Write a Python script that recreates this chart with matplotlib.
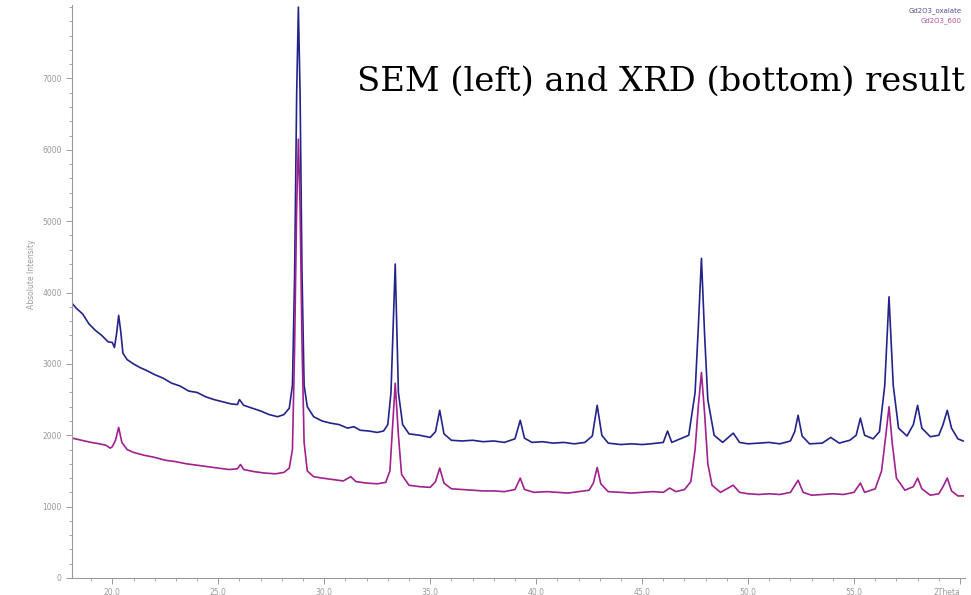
import matplotlib
matplotlib.use("Agg")
import matplotlib.pyplot as plt
from matplotlib.ticker import MultipleLocator

# XRD patterns (2theta in degrees, absolute intensity)
twotheta_oxalate = [18.1, 18.3, 18.6, 18.9, 19.2, 19.5, 19.8, 20.0, 20.1, 20.2, 20.3, 20.4, 20.5, 20.7,
                    21.0, 21.3, 21.6, 22.0, 22.4, 22.8, 23.2, 23.6, 24.0, 24.4, 24.8, 25.2, 25.6, 25.9,
                    26.0, 26.2, 26.6, 27.0, 27.4, 27.8, 28.1, 28.35, 28.5, 28.6, 28.7, 28.78, 28.86, 28.95,
                    29.05, 29.2, 29.5, 29.9, 30.3, 30.7, 31.1, 31.4, 31.7, 32.1, 32.5, 32.8, 33.0, 33.15,
                    33.35, 33.5, 33.7, 34.0, 34.5, 35.0, 35.25, 35.45, 35.65, 36.0, 36.5, 37.0, 37.5, 38.0,
                    38.5, 39.0, 39.25, 39.45, 39.8, 40.3, 40.8, 41.3, 41.8, 42.3, 42.65, 42.88, 43.1, 43.4,
                    44.0, 44.5, 45.0, 45.4, 46.0, 46.2, 46.4, 46.8, 47.2, 47.5, 47.65, 47.8, 47.95, 48.1,
                    48.4, 48.8, 49.3, 49.6, 50.0, 50.5, 51.0, 51.5, 52.0, 52.2, 52.36, 52.55, 52.9, 53.5,
                    53.9, 54.3, 54.8, 55.1, 55.3, 55.5, 55.9, 56.2, 56.45, 56.65, 56.85, 57.1, 57.5, 57.8,
                    58.0, 58.2, 58.6, 59.0, 59.2, 59.4, 59.6, 59.9, 60.15]
intensity_oxalate = [3850, 3780, 3700, 3560, 3470, 3400, 3310, 3300, 3230, 3420, 3680, 3450, 3150, 3060,
                     3000, 2950, 2910, 2850, 2800, 2730, 2690, 2620, 2600, 2540, 2500, 2470, 2440, 2430,
                     2500, 2420, 2380, 2340, 2290, 2260, 2290, 2380, 2700, 4200, 6800, 8000, 6800, 4300,
                     2700, 2400, 2260, 2200, 2170, 2150, 2100, 2120, 2070, 2060, 2040, 2060, 2150, 2600,
                     4400, 2600, 2150, 2020, 2000, 1970, 2050, 2350, 2020, 1930, 1920, 1930, 1910, 1920,
                     1900, 1950, 2210, 1960, 1900, 1910, 1890, 1900, 1880, 1900, 1990, 2420, 2000, 1890,
                     1870, 1880, 1870, 1880, 1900, 2060, 1900, 1950, 2000, 2600, 3500, 4480, 3400, 2500,
                     2000, 1900, 2030, 1900, 1880, 1890, 1900, 1880, 1920, 2050, 2280, 1990, 1880, 1890,
                     1970, 1890, 1930, 2000, 2240, 2000, 1950, 2050, 2700, 3940, 2700, 2100, 1990, 2150,
                     2420, 2100, 1980, 2000, 2150, 2350, 2100, 1950, 1920]

twotheta_600 = [18.1, 18.4, 18.7, 19.0, 19.4, 19.7, 19.9, 20.0, 20.15, 20.3, 20.45, 20.7, 21.0, 21.5,
                22.0, 22.5, 23.0, 23.5, 24.0, 24.5, 25.0, 25.5, 25.9, 26.05, 26.2, 26.7, 27.2, 27.7,
                28.1, 28.35, 28.5, 28.6, 28.7, 28.78, 28.86, 28.95, 29.05, 29.2, 29.5, 29.9, 30.4, 30.9,
                31.25, 31.5, 32.0, 32.5, 32.9, 33.1, 33.2, 33.35, 33.5, 33.65, 34.0, 34.5, 35.0, 35.25,
                35.45, 35.65, 36.0, 36.5, 37.0, 37.5, 38.0, 38.5, 39.0, 39.25, 39.45, 39.9, 40.5, 41.0,
                41.5, 42.0, 42.5, 42.7, 42.88, 43.05, 43.4, 44.0, 44.5, 45.0, 45.5, 46.0, 46.3, 46.6,
                47.0, 47.3, 47.5, 47.65, 47.8, 47.95, 48.1, 48.3, 48.7, 49.3, 49.6, 50.0, 50.5, 51.0,
                51.5, 52.0, 52.36, 52.6, 53.0, 53.5, 54.0, 54.5, 55.0, 55.3, 55.5, 56.0, 56.3, 56.5,
                56.65, 56.8, 57.0, 57.4, 57.8, 58.0, 58.2, 58.6, 59.0, 59.2, 59.4, 59.6, 59.9, 60.15]
intensity_600 = [1960, 1940, 1920, 1900, 1880, 1860, 1820, 1840, 1930, 2110, 1900, 1800, 1760, 1720,
                 1690, 1650, 1630, 1600, 1580, 1560, 1540, 1520, 1530, 1590, 1520, 1490, 1470, 1460,
                 1480, 1540, 1800, 3200, 5200, 6150, 5200, 3300, 1900, 1500, 1420, 1400, 1380, 1360,
                 1420, 1350, 1330, 1320, 1340, 1500, 2000, 2730, 2000, 1450, 1300, 1280, 1270, 1350,
                 1540, 1330, 1250, 1240, 1230, 1220, 1220, 1210, 1240, 1400, 1240, 1200, 1210, 1200,
                 1190, 1210, 1230, 1330, 1550, 1320, 1210, 1200, 1190, 1200, 1210, 1200, 1260, 1210,
                 1240, 1350, 1800, 2400, 2880, 2300, 1600, 1300, 1200, 1300, 1200, 1180, 1170, 1180,
                 1170, 1200, 1370, 1200, 1160, 1170, 1180, 1170, 1200, 1330, 1200, 1250, 1500, 2000,
                 2400, 1900, 1400, 1230, 1280, 1400, 1250, 1160, 1180, 1280, 1400, 1220, 1150, 1150]

series_labels = ["Gd2O3_oxalate", "Gd2O3_600"]
xtick_values = [20, 25, 30, 35, 40, 45, 50, 55, 60]
xtick_labels = ["20.0", "25.0", "30.0", "35.0", "40.0", "45.0", "50.0", "55.0", "2Theta"]
ytick_values = [0, 1000, 2000, 3000, 4000, 5000, 6000, 7000]

blue = "#23238a"
magenta = "#a0208e"
grey = "#9a9a9a"

fig = plt.figure(figsize=(9.71, 5.95), dpi=100)
ax = fig.add_axes([0.0742, 0.0286, 0.9197, 0.963])

ax.plot(twotheta_oxalate, intensity_oxalate, color=blue, lw=1.2)
ax.plot(twotheta_600, intensity_600, color=magenta, lw=1.2)

ax.set_xlim(18.1, 60.24)
ax.set_ylim(0, 8030)

for s in ["top", "right"]:
    ax.spines[s].set_visible(False)
for s in ["left", "bottom"]:
    ax.spines[s].set_color(grey)
    ax.spines[s].set_linewidth(0.8)

ax.set_xticks(xtick_values, xtick_labels)
ax.set_yticks(ytick_values, [str(v) for v in ytick_values])
ax.xaxis.set_minor_locator(MultipleLocator(1))
ax.yaxis.set_minor_locator(MultipleLocator(200))
ax.tick_params(which="both", colors=grey, labelsize=5.5, direction="out")
ax.tick_params(which="major", length=4, width=0.7)
ax.tick_params(which="minor", length=2, width=0.6)
ax.tick_params(axis="x", pad=3)
ax.get_xticklabels()[-1].set_ha("right")

ax.set_ylabel("Absolute Intensity", fontsize=5.5, color=grey)
ax.yaxis.set_label_coords(-0.04, 0.53)

# legend as coloured text, top right
fig.text(0.99, 0.982, series_labels[0], color=blue, fontsize=5, ha="right", va="center", alpha=0.8)
fig.text(0.99, 0.965, series_labels[1], color=magenta, fontsize=5, ha="right", va="center", alpha=0.8)

fig.text(0.368, 0.862, "SEM (left) and XRD (bottom) result", family="DejaVu Serif",
         fontsize=24.4, color="black", ha="left", va="center")

fig.savefig("out.png", dpi=100)
